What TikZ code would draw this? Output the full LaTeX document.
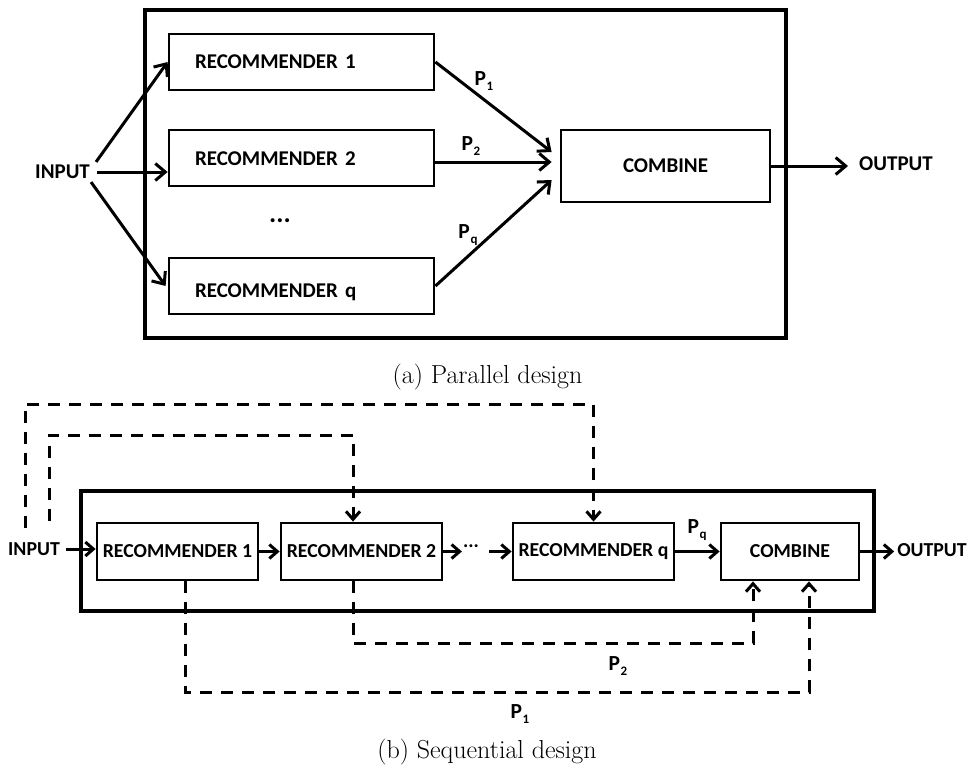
\documentclass[tikz,border=0pt]{standalone}
\usepackage{fontspec}
\newfontfamily\calib{Carlito}
\usetikzlibrary{arrows.meta}
\newcommand{\Plab}[1]{P\kern0.6pt\raisebox{-5pt}{\fontsize{13}{13}\selectfont #1}}
\begin{document}
\begin{tikzpicture}[x=1pt,y=-1pt,
  ftA/.style={font=\calib\bfseries\fontsize{21}{24}\selectfont},
  ftB/.style={font=\calib\bfseries\fontsize{19.8}{22}\selectfont},
  ftP/.style={font=\calib\bfseries\fontsize{21.5}{24}\selectfont, inner sep=3pt},
  lbl/.style={inner sep=3pt},
  frameA/.style={line width=3.8pt},
  frameB/.style={line width=3.1pt},
  boxA/.style={draw, line width=2.8pt, minimum width=265pt, minimum height=56pt,
    inner xsep=26pt, text width=213pt, align=left, ftA},
  combAbox/.style={draw, line width=2.8pt, minimum width=209pt, minimum height=72pt, ftA},
  boxB/.style={draw, line width=2.8pt, minimum width=161pt, minimum height=57pt,
    inner sep=0pt, ftB},
  combBbox/.style={draw, line width=2.8pt, minimum width=138pt, minimum height=57pt,
    inner sep=0pt, ftB},
  arr/.style={line width=3pt, -{Straight Barb[length=10pt,width=17pt,line width=3pt]}},
  arrb/.style={line width=3pt, -{Straight Barb[length=8pt,width=14pt,line width=3pt]}},
  dsh/.style={line width=3pt, dash pattern=on 12pt off 9pt,
    -{Straight Barb[length=8pt,width=14pt,line width=3pt]}},
  capt/.style={font=\fontsize{26}{30}\selectfont, anchor=base}
]
\useasboundingbox (0,0) rectangle (968,766);

% ---------------- (a) Parallel design ----------------
\draw[frameA] (145,10) rectangle (786,338);
\node[boxA] (r1a) at (301.5,62) {RECOMMENDER 1};
\node[boxA, text height=19pt, text depth=4pt] (r2a) at (301.5,158) {RECOMMENDER 2};
\node[boxA, text height=27pt, text depth=4pt] (rqa) at (301.5,286) {RECOMMENDER q};
\node[font=\calib\bfseries\fontsize{27}{27}\selectfont, inner sep=1pt] (dotsa) at (280,221) {...};
\node[combAbox] (cmbA) at (665.5,166) {COMBINE};
\node[ftA,lbl] (inA) at (62.5,172) {INPUT};
\node[ftA,lbl] (outA) at (896,164) {OUTPUT};

\draw[arr] ([xshift=3pt]inA.north east) -- (r1a.west);
\draw[arr, shorten <=4pt] (inA.east) -- (inA.east -| r2a.west);
\draw[arr] ([xshift=-2pt]inA.south east) -- ([xshift=-2pt]rqa.west);
\draw[arr] (r1a.east) -- ([xshift=-8pt,yshift=14pt]cmbA.west);
\draw[arr] ([yshift=-4pt]r2a.east) -- ([xshift=-8pt,yshift=4pt]cmbA.west);
\draw[arr] (rqa.east) -- ([xshift=-8pt,yshift=-14pt]cmbA.west);
\draw[arr, shorten >=8pt] (cmbA.east) -- (cmbA.east -| outA.west);

\node[ftP] (p1a) at (484,81) {\Plab{1}};
\node[ftP] (p2a) at (471,146) {\Plab{2}};
\node[ftP] (pqa) at (468,235) {\Plab{q}};

\node[capt] (capA) at (487.5,383) {(a) Parallel design};

% ---------------- (b) Sequential design ----------------
\draw[frameB] (81,491) rectangle (874,611);
\node[boxB] (r1b) at (177.5,551.5) {RECOMMENDER 1};
\node[boxB] (r2b) at (361.5,551.5) {RECOMMENDER 2};
\node[boxB] (rqb) at (593.5,551.5) {RECOMMENDER q};
\node[combBbox] (cmbB) at (790,551.5) {COMBINE};
\node[ftB,lbl] (inB) at (34,549) {INPUT};
\node[ftB,lbl] (outB) at (932,550) {OUTPUT};
\node[ftB,inner sep=1pt] (dotsb) at (471,546) {...};

\draw[arrb, shorten <=3pt] (inB.east) -- (inB.east -| r1b.west);
\draw[arrb] (r1b.east) -- (r2b.west);
\draw[arrb] (r2b.east) -- (r2b.east -| dotsb.west);
\draw[arrb] ([xshift=9pt]dotsb.east |- rqb.west) -- (rqb.west);
\draw[arrb] (rqb.east) -- (cmbB.west);
\draw[arrb] (cmbB.east) -- (cmbB.east -| outB.west);

\node[ftP] (pqb) at (697,530) {\Plab{q}};
\node[ftP] (p2b) at (618,666) {\Plab{2}};
\node[ftP] (p1b) at (520,714) {\Plab{1}};

\coordinate (src1) at (25,528);
\coordinate (src2) at (49,521);
\draw[dsh] (src1) -- ++(0,-124) -| (rqb.north);
\draw[dsh] (src2) -- ++(0,-86) -| ([xshift=-8.5pt]r2b.north);
\draw[dsh] ([xshift=-8.5pt]r2b.south) -- ++(0,62) -| ([xshift=-37pt]cmbB.south);
\draw[dsh] ([xshift=7.5pt]r1b.south) -- ++(0,111) -| ([xshift=19pt]cmbB.south);

\node[capt] (capB) at (487,758) {(b) Sequential design};
\end{tikzpicture}
\end{document}
